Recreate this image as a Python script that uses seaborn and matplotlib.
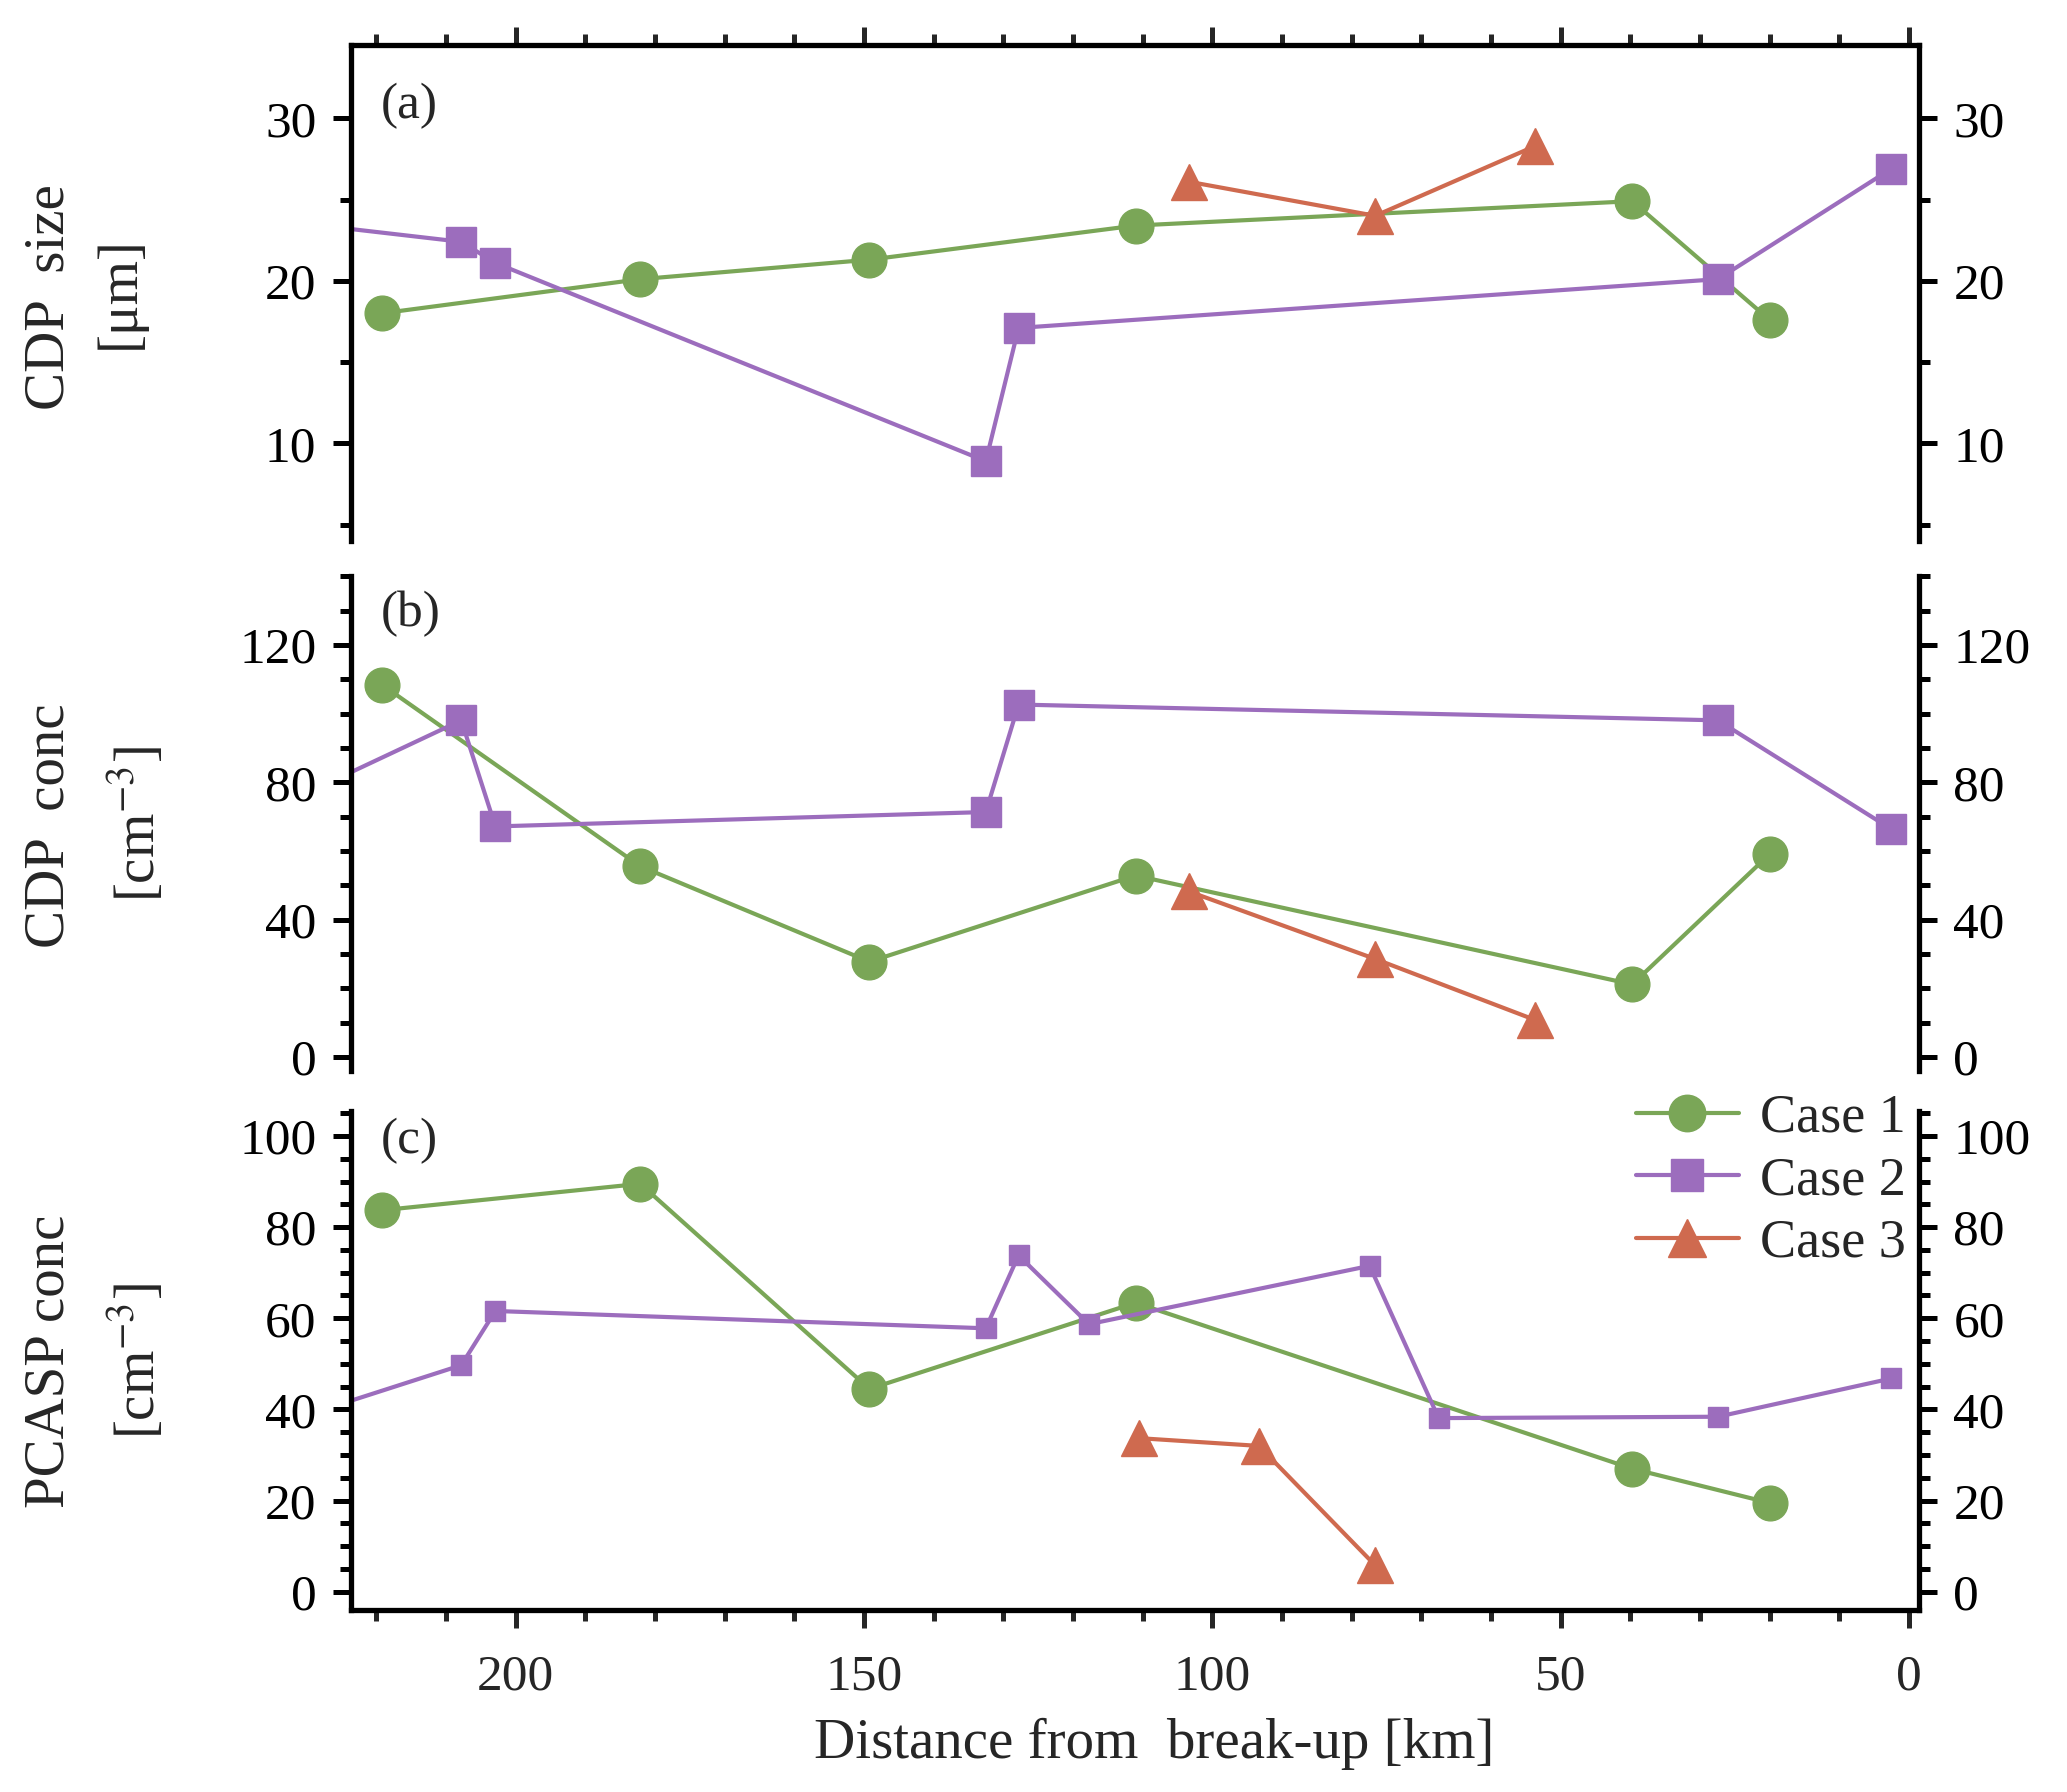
import numpy as np
import pandas as pd
import matplotlib
matplotlib.use("Agg")
import matplotlib.pyplot as plt
from matplotlib.ticker import MultipleLocator
import seaborn as sns

# distance from break-up [km] and values
dist1 = [219.2, 182.1, 149.2, 111.0, 39.7, 20.0]
size1 = [18.0, 20.1, 21.3, 23.4, 24.9, 17.6]
cdpconc1 = [108.5, 55.6, 27.8, 52.9, 21.2, 59.1]
pcasp1 = [83.7, 89.5, 44.5, 63.4, 27.0, 19.5]

dist2 = [232.0, 207.8, 202.9, 132.5, 127.8, 27.4, 2.5]
size2 = [23.6, 22.4, 21.1, 8.9, 17.1, 20.1, 26.9]
cdpconc2 = [75.0, 98.1, 67.2, 71.4, 102.7, 98.1, 66.4]
dist2_pcasp = [232.0, 207.8, 202.9, 132.5, 127.8, 117.7, 77.4, 67.5, 27.4, 2.5]
pcasp2 = [37.8, 49.7, 61.6, 57.8, 73.8, 58.7, 71.5, 38.1, 38.4, 46.8]

dist3 = [103.4, 76.6, 53.6]
size3 = [26.1, 24.0, 28.3]
cdpconc3 = [48.3, 28.6, 10.8]
dist3_pcasp = [110.5, 93.3, 76.6]
pcasp3 = [33.7, 32.0, 5.8]

cases = ["Case 1", "Case 2", "Case 3"]
colors = {"Case 1": "#7aa657", "Case 2": "#9c6dbd", "Case 3": "#cf6a4f"}
markers = {"Case 1": "o", "Case 2": "s", "Case 3": "^"}

panel_data = {
    "a": {"Case 1": (dist1, size1), "Case 2": (dist2, size2), "Case 3": (dist3, size3)},
    "b": {"Case 1": (dist1, cdpconc1), "Case 2": (dist2, cdpconc2), "Case 3": (dist3, cdpconc3)},
    "c": {"Case 1": (dist1, pcasp1), "Case 2": (dist2_pcasp, pcasp2), "Case 3": (dist3_pcasp, pcasp3)},
}
msizes = {
    "a": {"Case 1": 25, "Case 2": 22, "Case 3": 26},
    "b": {"Case 1": 25, "Case 2": 22, "Case 3": 26},
    "c": {"Case 1": 25, "Case 2": 15, "Case 3": 26},
}

sns.set_style("ticks")
plt.rcParams["font.family"] = ["Liberation Serif", "DejaVu Serif"]
plt.rcParams["mathtext.fontset"] = "stix"

fig = plt.figure(figsize=(20.67, 17.92), dpi=100)
ax_a = fig.add_axes([0.1699, 0.6982, 0.7583, 0.2766])
ax_b = fig.add_axes([0.1699, 0.4024, 0.7583, 0.2759], sharex=ax_a)
ax_c = fig.add_axes([0.1699, 0.1013, 0.7583, 0.2788], sharex=ax_a)
axes = {"a": ax_a, "b": ax_b, "c": ax_c}

for key, ax in axes.items():
    for case in cases:
        x, y = panel_data[key][case]
        df = pd.DataFrame({"dist": x, "val": y})
        sns.lineplot(data=df, x="dist", y="val", ax=ax, color=colors[case],
                     marker=markers[case], markersize=msizes[key][case],
                     markeredgecolor=colors[case], markeredgewidth=1,
                     sort=False, label=case, legend=False)
    for line in ax.lines:
        line.set_linewidth(3.0)
    ax.set_xlabel("")
    ax.set_ylabel("")
    for s in ax.spines.values():
        s.set_linewidth(3.8)
        s.set_color("black")
    ax.tick_params(axis="y", which="both", left=True, right=True,
                   labelleft=True, labelright=True, direction="out",
                   width=3.6, labelsize=37, pad=12, colors="black")
    ax.tick_params(axis="y", which="major", length=13)
    ax.tick_params(axis="y", which="minor", length=8)
    ax.tick_params(axis="x", which="both", width=3.6, direction="out", labelsize=37)
    ax.tick_params(axis="x", which="major", length=13)
    ax.tick_params(axis="x", which="minor", length=8)

ax_a.set_xlim(223.6, -1.4)
ax_a.xaxis.set_major_locator(MultipleLocator(50))
ax_a.xaxis.set_minor_locator(MultipleLocator(10))

# panel (a)
ax_a.set_ylim(4.0, 34.5)
ax_a.yaxis.set_major_locator(MultipleLocator(10))
ax_a.yaxis.set_minor_locator(MultipleLocator(5))
ax_a.spines["bottom"].set_visible(False)
ax_a.tick_params(axis="x", which="both", top=True, bottom=False,
                 labeltop=False, labelbottom=False)

# panel (b)
ax_b.set_ylim(-4, 140)
ax_b.yaxis.set_major_locator(MultipleLocator(40))
ax_b.yaxis.set_minor_locator(MultipleLocator(10))
ax_b.spines["top"].set_visible(False)
ax_b.spines["bottom"].set_visible(False)
ax_b.tick_params(axis="x", which="both", top=False, bottom=False,
                 labeltop=False, labelbottom=False)

# panel (c)
ax_c.set_ylim(-4.1, 105.5)
ax_c.yaxis.set_major_locator(MultipleLocator(20))
ax_c.yaxis.set_minor_locator(MultipleLocator(5))
ax_c.spines["top"].set_visible(False)
ax_c.tick_params(axis="x", which="both", top=False, bottom=True,
                 labeltop=False, labelbottom=True, pad=18)
ax_c.set_xlabel("Distance from  break-up [km]", fontsize=41)
ax_c.xaxis.set_label_coords(0.512, -0.215)

# panel letters
ax_a.text(0.019, 0.877, "(a)", transform=ax_a.transAxes, fontsize=37, va="center")
ax_b.text(0.019, 0.925, "(b)", transform=ax_b.transAxes, fontsize=37, va="center")
ax_c.text(0.019, 0.940, "(c)", transform=ax_c.transAxes, fontsize=37, va="center")

# y labels, two lines each
fig.text(37 / 1560, 1 - 224 / 1352, "CDP  size", rotation=90, fontsize=41,
         ha="center", va="center")
fig.text(90 / 1560, 1 - 221 / 1352, "[\u03bcm]", rotation=90, fontsize=41,
         ha="center", va="center")
fig.text(37 / 1560, 1 - 623 / 1352, "CDP  conc", rotation=90, fontsize=41,
         ha="center", va="center")
fig.text(103 / 1560, 1 - 622 / 1352, "[cm$^{-3}$]", rotation=90, fontsize=41,
         ha="center", va="center")
fig.text(37 / 1560, 1 - 1027 / 1352, "PCASP conc", rotation=90, fontsize=41,
         ha="center", va="center")
fig.text(103 / 1560, 1 - 1027 / 1352, "[cm$^{-3}$]", rotation=90, fontsize=41,
         ha="center", va="center")

handles, labels = ax_a.get_legend_handles_labels()
ax_c.legend(handles, labels, loc="upper right", bbox_to_anchor=(0.992, 1.035),
            frameon=False, fontsize=39, handlelength=1.9, handletextpad=0.4,
            labelspacing=0.22, borderaxespad=0, borderpad=0, markerscale=1.05)

fig.savefig("out.png", dpi=100)
